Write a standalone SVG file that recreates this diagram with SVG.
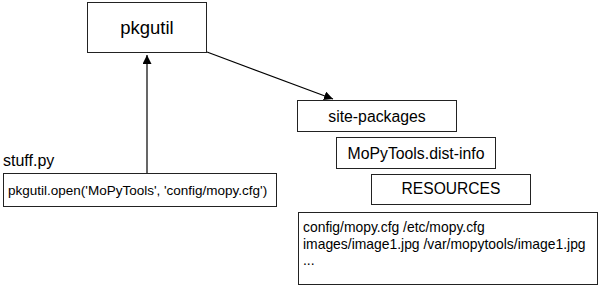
<svg xmlns="http://www.w3.org/2000/svg" width="601" height="288" viewBox="0 0 601 288">
  <style>
    .box { fill: #fff; stroke: #222; stroke-width: 1; }
    .lbl { font-family: "Liberation Sans", Arial, sans-serif; fill: #000; }
    .wire { stroke: #000; stroke-width: 1.2; fill: none; }
  </style>
  <defs>
    <marker id="head" viewBox="0 0 10 10" refX="10" refY="5" markerWidth="9" markerHeight="9" markerUnits="userSpaceOnUse" orient="auto">
      <path d="M0,0 L10,5 L0,10 z" fill="#000"/>
    </marker>
  </defs>
  <rect width="601" height="288" fill="#fff"/>

  <g id="connectors">
    <line class="wire" x1="147" y1="173" x2="147" y2="55" marker-end="url(#head)"/>
    <line class="wire" x1="207" y1="52" x2="333" y2="99" marker-end="url(#head)"/>
  </g>

  <g id="pkgutil">
    <rect class="box" x="87.5" y="2.5" width="119" height="50"/>
    <text class="lbl" x="147" y="34" font-size="18.5" text-anchor="middle">pkgutil</text>
  </g>

  <g id="site-packages">
    <rect class="box" x="297.5" y="100.5" width="159" height="31"/>
    <text class="lbl" x="377" y="121.5" font-size="15.8" text-anchor="middle">site-packages</text>
  </g>

  <g id="dist-info">
    <rect class="box" x="336.5" y="137.5" width="159" height="31"/>
    <text class="lbl" x="416" y="158.5" font-size="15.8" text-anchor="middle">MoPyTools.dist-info</text>
  </g>

  <g id="resources">
    <rect class="box" x="371.5" y="174.5" width="159" height="30"/>
    <text class="lbl" x="451" y="194" font-size="15.6" text-anchor="middle">RESOURCES</text>
  </g>

  <g id="resource-map">
    <rect class="box" x="298.5" y="212.5" width="299" height="72"/>
    <text class="lbl" x="303" y="232" font-size="13.9">config/mopy.cfg /etc/mopy.cfg</text>
    <text class="lbl" x="303" y="248.5" font-size="13.9">images/image1.jpg /var/mopytools/image1.jpg</text>
    <text class="lbl" x="303" y="265" font-size="13.9">...</text>
  </g>

  <g id="stuff">
    <text class="lbl" x="3" y="166" font-size="16">stuff.py</text>
    <rect class="box" x="3.5" y="173.5" width="273" height="33"/>
    <text class="lbl" x="8" y="195" font-size="13.5">pkgutil.open('MoPyTools', 'config/mopy.cfg')</text>
  </g>
</svg>
